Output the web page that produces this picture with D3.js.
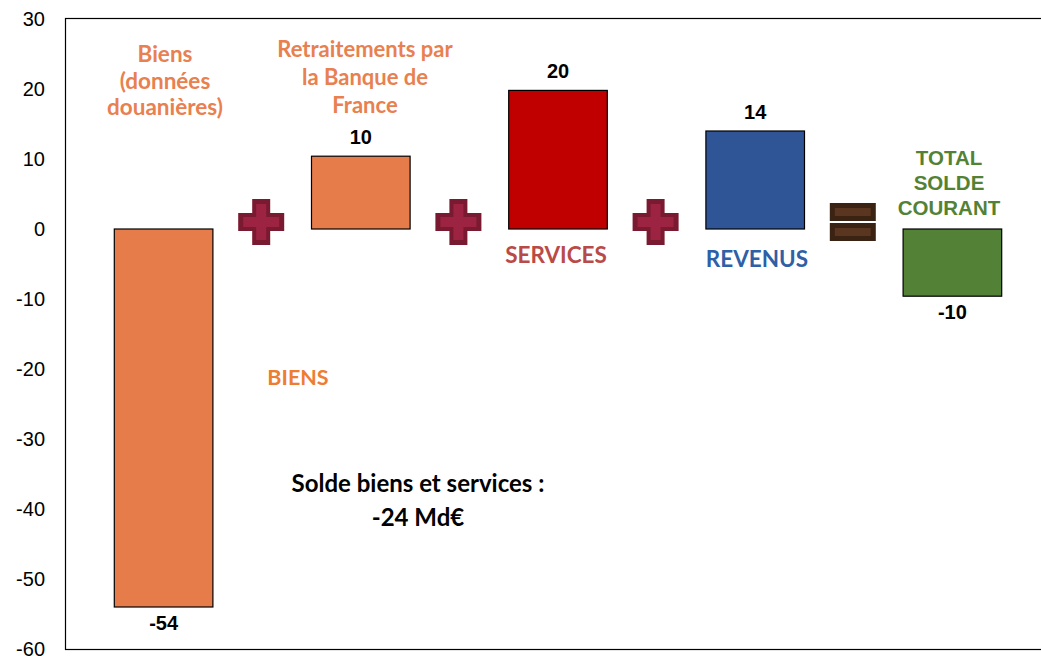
<!DOCTYPE html>
<html>
<head>
<meta charset="utf-8">
<script src="https://cdn.jsdelivr.net/npm/d3@7"></script>
<style>
  body { margin: 0; background: #fff; }
</style>
</head>
<body>
<script>
var w = 1041;
var h = 656;

// Data
var categories = ["Biens", "Retraitements", "Services", "Revenus", "Total"];
var values = [-54, 10.4, 19.8, 14, -9.6];
var valueLabels = ["-54", "10", "20", "14", "-10"];
var barColors = ["#E67C4A", "#E67C4A", "#C00000", "#2F5597", "#538135"];
var yTicks = [30, 20, 10, 0, -10, -20, -30, -40, -50, -60];
var operators = ["+", "+", "+", "="];

var svg = d3.select("body")
            .append("svg")
            .attr("width", w)
            .attr("height", h);

var xScale = d3.scaleBand()
               .domain(categories)
               .range([65, 1051])
               .paddingInner(0.5)
               .paddingOuter(0.25);

var yScale = d3.scaleLinear()
               .domain([-60, 30])
               .range([649, 19]);

// frame
svg.append("rect")
   .attr("x", 65.5)
   .attr("y", 18.5)
   .attr("width", 1000)
   .attr("height", yScale(-60) - 18)
   .attr("fill", "none")
   .attr("stroke", "#000")
   .attr("stroke-width", 1.2);

var yAxis = d3.axisLeft(yScale)
              .tickValues(yTicks)
              .tickFormat(function(d) { return String(d); })
              .tickSize(0)
              .tickPadding(20);

svg.append("g")
   .attr("transform", "translate(65,0)")
   .call(yAxis)
   .call(function(g) { g.select(".domain").remove(); })
   .selectAll("text")
   .attr("font-family", "Liberation Sans, Arial, sans-serif")
   .attr("font-size", "20px")
   .attr("fill", "#000");

// bars
svg.selectAll("rect.bar")
   .data(values)
   .enter()
   .append("rect")
   .attr("class", "bar")
   .attr("x", function(d, i) { return xScale(categories[i]); })
   .attr("y", function(d) { return yScale(Math.max(0, d)); })
   .attr("width", xScale.bandwidth())
   .attr("height", function(d) { return Math.abs(yScale(d) - yScale(0)); })
   .attr("fill", function(d, i) { return barColors[i]; })
   .attr("stroke", "#000")
   .attr("stroke-width", 1.2);

// value labels
svg.selectAll("text.val")
   .data(values)
   .enter()
   .append("text")
   .attr("class", "val")
   .attr("x", function(d, i) { return xScale(categories[i]) + xScale.bandwidth() / 2; })
   .attr("y", function(d) { return d >= 0 ? yScale(d) - 12 : yScale(d) + 23; })
   .attr("text-anchor", "middle")
   .attr("font-family", "Liberation Sans, Arial, sans-serif")
   .attr("font-weight", "bold")
   .attr("font-size", "20px")
   .text(function(d, i) { return valueLabels[i]; });

// operators between bars
var opY = yScale(1);
operators.forEach(function(op, i) {
    var cx = xScale(categories[i]) + xScale.bandwidth() + (xScale.step() - xScale.bandwidth()) / 2 - 1;
    var g = svg.append("g").attr("transform", "translate(" + cx + "," + opY + ")");
    if (op === "+") {
        var s = 23, t = 9;
        var path = "M" + (-t) + "," + (-s) + "H" + t + "V" + (-t) + "H" + s + "V" + t + "H" + t +
                   "V" + s + "H" + (-t) + "V" + t + "H" + (-s) + "V" + (-t) + "H" + (-t) + "Z";
        g.append("path").attr("d", path).attr("fill", "#7A1A30");
        var s2 = 18, t2 = 5;
        var path2 = "M" + (-t2) + "," + (-s2) + "H" + t2 + "V" + (-t2) + "H" + s2 + "V" + t2 + "H" + t2 +
                    "V" + s2 + "H" + (-t2) + "V" + t2 + "H" + (-s2) + "V" + (-t2) + "H" + (-t2) + "Z";
        g.append("path").attr("d", path2).attr("fill", "#9C2442");
    } else {
        [-19, 1].forEach(function(dy) {
            g.append("rect").attr("x", -23).attr("y", dy).attr("width", 46).attr("height", 18)
             .attr("fill", "#3B2314");
            g.append("rect").attr("x", -18).attr("y", dy + 5).attr("width", 36).attr("height", 8)
             .attr("fill", "#5A3520");
        });
    }
});

// annotation texts
function multiText(lines, x, y, lh, color, family, size) {
    var t = svg.append("text")
               .attr("text-anchor", "middle")
               .attr("font-family", family)
               .attr("font-weight", "bold")
               .attr("font-size", size)
               .attr("fill", color);
    lines.forEach(function(l, i) {
        t.append("tspan").attr("x", x).attr("y", y + i * lh).text(l);
    });
}

var calibri = "Lato, Carlito, Calibri, sans-serif";
var arial = "Liberation Sans, Arial, sans-serif";
multiText(["Biens", "(données", "douanières)"], 165, 62, 26.5, "#E8804F", calibri, "22.5px");
multiText(["Retraitements par", "la Banque de", "France"], 365, 57, 28, "#E8804F", calibri, "22px");
multiText(["TOTAL", "SOLDE", "COURANT"], 949, 165, 25, "#548235", arial, "20.5px");
multiText(["SERVICES"], 556, 263, 0, "#B94A48", calibri, "22.5px");
multiText(["REVENUS"], 757, 267, 0, "#2F5FA7", calibri, "22.5px");
multiText(["BIENS"], 298, 385, 0, "#ED7D31", calibri, "21.5px");
multiText(["Solde biens et services :", "-24 Md€"], 418, 492, 34, "#000", calibri, "24px");
</script>
</body>
</html>
